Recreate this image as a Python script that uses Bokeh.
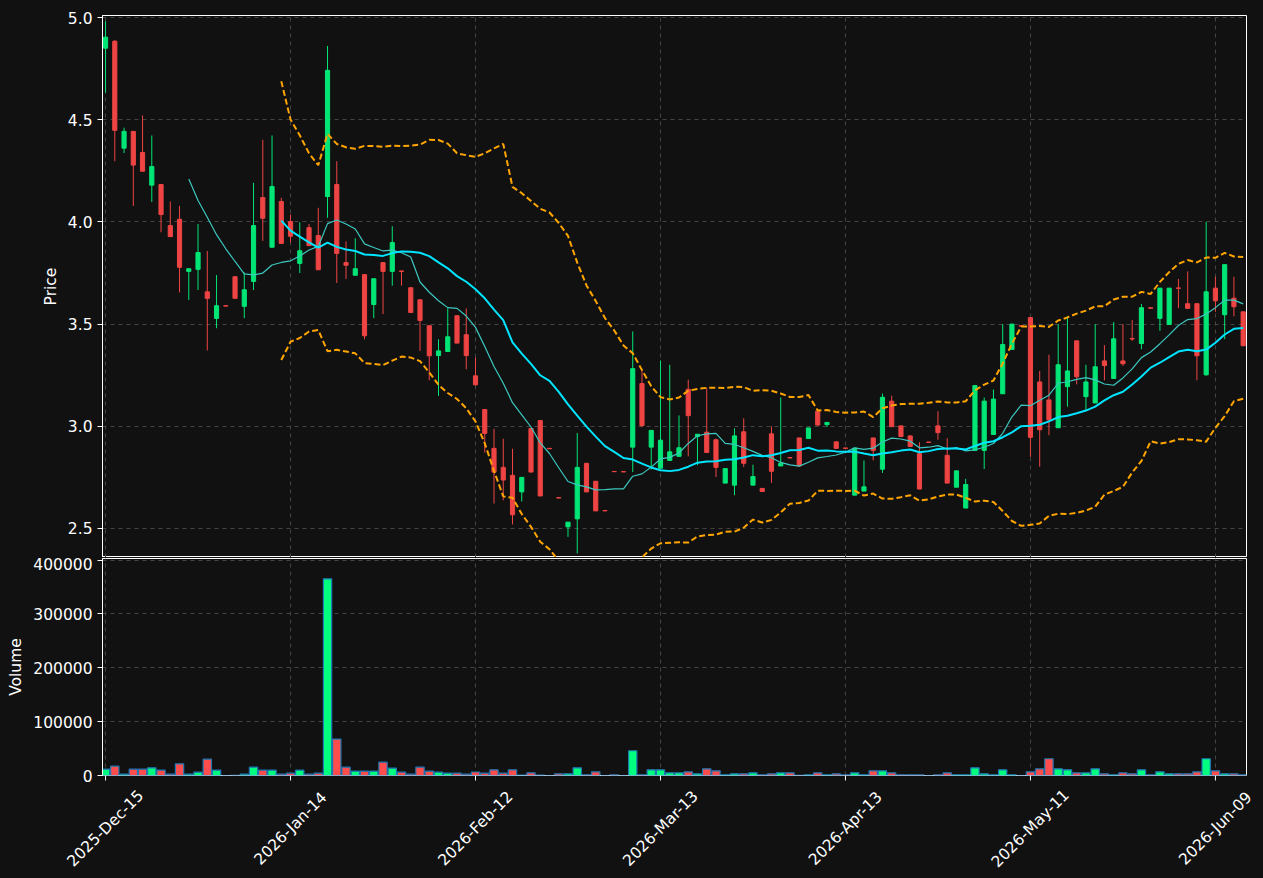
import numpy as np
import pandas as pd
from math import pi
from bokeh.plotting import figure
from bokeh.layouts import column
from bokeh.models import ColumnDataSource, Range1d, FixedTicker, PrintfTickFormatter
from bokeh.core.properties import value
from bokeh.embed import file_html
from bokeh.resources import INLINE

# ---- data (trading-day index 0..123) ----
open_ = [4.850, 4.884, 4.361, 4.443, 4.340, 4.180, 4.183, 3.982, 4.013, 3.758,
         3.768, 3.658, 3.528, 3.590, 3.732, 3.587, 3.709, 4.119, 3.876, 4.100,
         4.002, 3.797, 3.972, 3.933, 4.124, 4.183, 3.801, 3.739, 3.742, 3.596,
         3.801, 3.758, 3.760, 3.678, 3.619, 3.492, 3.346, 3.366, 3.541, 3.448,
         3.247, 3.082, 2.892, 2.799, 2.760, 2.679, 2.989, 3.028, 2.892, 2.651,
         2.508, 2.547, 2.819, 2.731, 2.588, 2.779, 2.778, 2.898, 3.209, 2.898,
         2.795, 2.833, 2.853, 3.181, 2.950, 2.971, 2.934, 2.722, 2.712, 2.973,
         2.712, 2.696, 2.963, 2.806, 2.847, 2.943, 2.940, 3.074, 3.008, 2.924,
         2.894, 2.663, 2.683, 2.943, 2.790, 3.123, 3.002, 2.953, 2.866, 2.923,
         3.002, 2.858, 2.702, 2.600, 2.882, 2.882, 2.960, 3.159, 3.376, 3.492,
         3.532, 3.217, 3.129, 2.993, 3.194, 3.418, 3.145, 3.114, 3.320, 3.234,
         3.320, 3.429, 3.405, 3.580, 3.528, 3.498, 3.677, 3.600, 3.600, 3.252,
         3.676, 3.546, 3.627, 3.560]
high = [4.982, 4.890, 4.461, 4.445, 4.521, 4.423, 4.185, 4.100, 4.078, 3.771,
        3.990, 3.858, 3.740, 3.590, 3.732, 3.753, 4.191, 4.402, 4.423, 4.118,
        4.036, 3.998, 3.990, 4.069, 4.861, 4.297, 3.905, 3.920, 3.742, 3.722,
        3.801, 3.979, 3.760, 3.678, 3.619, 3.492, 3.426, 3.577, 3.541, 3.577,
        3.337, 3.082, 2.988, 2.939, 2.890, 2.750, 2.989, 3.028, 2.892, 2.651,
        2.531, 2.967, 2.819, 2.731, 2.588, 2.779, 2.778, 3.464, 3.272, 2.980,
        3.322, 3.301, 3.053, 3.228, 2.961, 3.188, 2.940, 2.793, 2.990, 3.039,
        2.812, 2.696, 3.000, 3.141, 2.847, 2.943, 2.992, 3.074, 3.019, 2.924,
        2.894, 2.893, 2.833, 2.943, 3.160, 3.150, 3.002, 2.953, 2.922, 2.923,
        3.074, 2.942, 2.782, 2.743, 3.199, 3.141, 3.180, 3.500, 3.500, 3.492,
        3.532, 3.271, 3.350, 3.500, 3.539, 3.418, 3.301, 3.500, 3.397, 3.510,
        3.500, 3.520, 3.598, 3.580, 3.676, 3.676, 3.721, 3.758, 3.600, 4.000,
        3.732, 3.791, 3.732, 3.560]
low = [4.632, 4.297, 4.337, 4.078, 4.248, 4.098, 3.949, 3.928, 3.655, 3.618,
       3.667, 3.371, 3.480, 3.588, 3.626, 3.529, 3.667, 3.907, 3.876, 3.895,
       3.900, 3.750, 3.884, 3.766, 4.020, 3.701, 3.721, 3.739, 3.426, 3.529,
       3.549, 3.688, 3.688, 3.557, 3.369, 3.225, 3.149, 3.366, 3.407, 3.279,
       3.198, 2.871, 2.622, 2.638, 2.520, 2.632, 2.776, 2.659, 2.890, 2.649,
       2.459, 2.378, 2.679, 2.586, 2.586, 2.778, 2.777, 2.776, 2.996, 2.788,
       2.795, 2.833, 2.853, 2.853, 2.809, 2.872, 2.752, 2.722, 2.663, 2.801,
       2.712, 2.681, 2.723, 2.806, 2.845, 2.806, 2.940, 3.006, 2.997, 2.892,
       2.892, 2.663, 2.683, 2.833, 2.772, 2.998, 2.950, 2.901, 2.693, 2.921,
       2.934, 2.722, 2.702, 2.600, 2.882, 2.791, 2.960, 3.159, 3.376, 3.490,
       2.850, 2.802, 2.956, 2.993, 3.096, 3.205, 3.075, 3.114, 3.225, 3.234,
       3.296, 3.418, 3.377, 3.578, 3.467, 3.498, 3.578, 3.577, 3.225, 3.247,
       3.560, 3.426, 3.538, 3.394]
close = [4.904, 4.448, 4.443, 4.278, 4.248, 4.271, 4.036, 3.928, 3.778, 3.771,
         3.850, 3.626, 3.590, 3.588, 3.626, 3.668, 3.982, 4.018, 4.173, 3.895,
         3.930, 3.859, 3.884, 3.766, 4.742, 3.846, 3.788, 3.771, 3.443, 3.722,
         3.758, 3.899, 3.758, 3.557, 3.518, 3.345, 3.369, 3.438, 3.407, 3.346,
         3.203, 2.965, 2.776, 2.737, 2.567, 2.750, 2.776, 2.659, 2.890, 2.649,
         2.531, 2.799, 2.679, 2.586, 2.586, 2.778, 2.777, 3.282, 3.004, 2.980,
         2.932, 2.875, 2.895, 3.052, 2.961, 2.872, 2.799, 2.793, 2.953, 2.819,
         2.754, 2.681, 2.780, 2.819, 2.845, 2.806, 2.992, 3.006, 3.019, 2.892,
         2.892, 2.893, 2.704, 2.882, 3.142, 2.998, 2.950, 2.901, 2.693, 2.921,
         2.969, 2.722, 2.782, 2.715, 3.199, 3.123, 3.133, 3.400, 3.500, 3.490,
         2.946, 2.983, 3.031, 3.301, 3.271, 3.242, 3.217, 3.291, 3.297, 3.428,
         3.306, 3.427, 3.580, 3.578, 3.676, 3.676, 3.675, 3.577, 3.345, 3.658,
         3.614, 3.791, 3.585, 3.394]
volume = [11800, 17400, 2500, 11800, 11800, 14300, 9900, 2500, 21700, 2500,
          6200, 30400, 9900, 0, 500, 2500, 15500, 9900, 9900, 2500,
          4300, 9900, 2500, 4300, 365200, 67600, 15500, 8100, 8100, 8100,
          24800, 13600, 6200, 2500, 15500, 8100, 6200, 4300, 4300, 2500,
          6500, 4300, 10600, 4300, 10600, 600, 5000, 600, 0, 3100,
          3100, 14300, 1200, 6800, 0, 1200, 0, 46000, 1200, 10600,
          10600, 5000, 5000, 6800, 3100, 12400, 8700, 1200, 3100, 3100,
          5000, 1200, 3100, 5000, 5000, 300, 1200, 5000, 1200, 3100,
          1200, 5000, 1200, 8700, 8700, 5000, 1200, 1200, 1200, 0,
          1200, 5000, 1200, 1200, 14300, 3100, 1200, 10600, 1200, 0,
          6800, 12400, 31100, 12400, 10600, 5000, 5000, 12400, 3100, 1200,
          5000, 3100, 10600, 1200, 6800, 3100, 3100, 3100, 6800, 31100,
          8700, 3100, 3100, 1200]
tick_positions = [0, 20, 40, 60, 80, 100, 120]
tick_labels = ["2025-Dec-15", "2026-Jan-14", "2026-Feb-12", "2026-Mar-13",
               "2026-Apr-13", "2026-May-11", "2026-Jun-09"]
price_ticks = [2.5, 3.0, 3.5, 4.0, 4.5, 5.0]
volume_ticks = [0, 100000, 200000, 300000, 400000]

# ---- derived series ----
df = pd.DataFrame({"open": open_, "high": high, "low": low, "close": close, "volume": volume})
df["x"] = np.arange(len(df))
up = df["close"] >= df["open"]
df["top"] = df[["open", "close"]].max(axis=1)
df["bottom"] = df[["open", "close"]].min(axis=1)
df["ccolor"] = np.where(up, "#00e676", "#ef4444")
df["vcolor"] = np.where(up, "#00ff7f", "#ff4d4d")
df["ma10"] = df["close"].rolling(10).mean()
df["ma20"] = df["close"].rolling(20).mean()
sd = df["close"].rolling(20).std(ddof=0)
df["bb_up"] = df["ma20"] + 2 * sd
df["bb_lo"] = df["ma20"] - 2 * sd
src = ColumnDataSource(df)

BG = "#111111"
GRID = "#444444"
FONT = "DejaVu Sans"
FS = "15.5px"
W, LEFT, RIGHT = 1263, 102, 17
X0, X1 = -0.33, 123.36
xr = Range1d(X0, X1)
VOL_TOP = 403000
VOL_FRAME_H = 217


def style(p):
    p.background_fill_color = BG
    p.border_fill_color = BG
    p.outline_line_color = "white"
    p.outline_line_width = 1
    for g in (p.xgrid, p.ygrid):
        g.grid_line_color = GRID
        g.grid_line_dash = "4 4"
        g.grid_line_width = 1
    for ax in p.axis:
        ax.axis_line_color = "white"
        ax.major_tick_line_color = "white"
        ax.minor_tick_line_color = None
        ax.major_tick_out = 5
        ax.major_tick_in = 0
        ax.major_label_text_color = "white"
        ax.major_label_text_font = FONT
        ax.major_label_text_font_size = FS
        ax.axis_label_text_color = "white"
        ax.axis_label_text_font = FONT
        ax.axis_label_text_font_size = FS
        ax.axis_label_text_font_style = "normal"


# ---- price panel ----
p1 = figure(width=W, height=557, x_range=xr, y_range=Range1d(2.358, 5.01),
            output_backend="svg", toolbar_location=None,
            min_border_left=LEFT, min_border_right=RIGHT, min_border_top=15, min_border_bottom=0)
p1.segment(x0="x", y0="low", x1="x", y1="high", color="ccolor", line_width=1, source=src)
p1.vbar(x="x", top="top", bottom="bottom", width=0.45, fill_color="ccolor",
        line_color="ccolor", line_width=1, source=src)
p1.line("x", "ma10", source=src, color="#3cc8c0", line_width=1.2)
p1.line("x", "ma20", source=src, color="#00e5ff", line_width=2)
p1.line("x", "bb_up", source=src, color="#ffa500", line_width=2, line_dash="6 3")
p1.line("x", "bb_lo", source=src, color="#ffa500", line_width=2, line_dash="6 3")
p1.xaxis.visible = False
p1.xgrid.ticker = FixedTicker(ticks=tick_positions)
p1.yaxis.ticker = FixedTicker(ticks=price_ticks)
p1.yaxis.formatter = PrintfTickFormatter(format="%.1f")
p1.yaxis.axis_label = "Price"
style(p1)

# ---- volume panel (with the date labels drawn below its frame) ----
p2 = figure(width=W, height=321, x_range=xr, y_range=Range1d(0, VOL_TOP),
            output_backend="svg", toolbar_location=None,
            min_border_left=LEFT, min_border_right=RIGHT, min_border_top=1, min_border_bottom=103)
p2.vbar(x="x", top="volume", bottom=0, width=0.9, fill_color="vcolor",
        line_color="#1f77b4", line_width=1.2, source=src)
p2.xaxis.visible = False
p2.xgrid.ticker = FixedTicker(ticks=tick_positions)
p2.yaxis.ticker = FixedTicker(ticks=volume_ticks)
p2.yaxis.formatter = PrintfTickFormatter(format="%d")
p2.yaxis.axis_label = "Volume"
style(p2)

per_px = VOL_TOP / VOL_FRAME_H
n = len(tick_positions)
tsrc = ColumnDataSource(dict(x=tick_positions, lab=tick_labels,
                             y0=[0] * n, y1=[-5 * per_px] * n, ylab=[-53 * per_px] * n))
p2.segment(x0="x", y0="y0", x1="x", y1="y1", color="white", line_width=1,
           source=tsrc, level="overlay")
p2.text(x="x", y="ylab", text="lab", angle=pi / 4, text_align="center",
        text_baseline="middle", text_color="white", text_font=value(FONT),
        text_font_size=value(FS), source=tsrc, level="overlay")

layout = column(p1, p2, spacing=0, styles={"background-color": BG})
html = file_html(layout, INLINE)
html = html.replace("<body>", '<body style="margin:0;background:#111111;">')
open("out.html", "w").write(html)
